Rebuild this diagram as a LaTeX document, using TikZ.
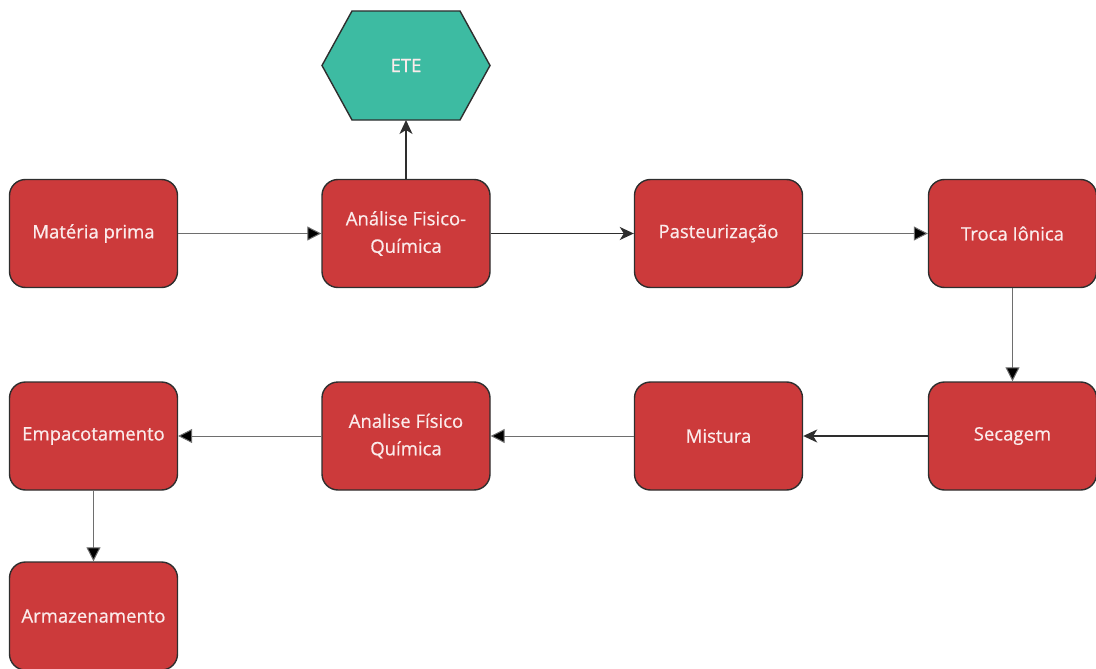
\documentclass[tikz,border=0pt]{standalone}
\usepackage{fontspec}
\setmainfont{Open Sans}
\newfontfamily\labelfont[FakeBold=0.6]{Open Sans}
\usetikzlibrary{arrows.meta,shapes.geometric}
\definecolor{boxred}{HTML}{CC3A3B}
\definecolor{teal}{HTML}{3DBBA2}
\definecolor{edge}{HTML}{2E2E2E}
\definecolor{txt}{HTML}{FBEBEB}
\definecolor{thinline}{HTML}{6E6E6E}
\begin{document}
\begin{tikzpicture}[x=1pt,y=-1pt,
  stepbox/.style={draw=edge,line width=1.4pt,fill=boxred,rounded corners=16pt,
    minimum width=168pt,minimum height=108pt,inner sep=0pt,text=txt,align=center,
    font=\labelfont\fontsize{18.5}{27.5}\selectfont},
  hexbox/.style={draw=edge,line width=1.4pt,fill=teal},
  thinarrow/.style={draw=thinline,line width=1pt,
    -{Triangle[length=14pt,width=14pt,fill=black]}},
  darkarrow/.style={draw=edge,line width=1.6pt,
    -{Stealth[length=14pt,width=13pt,inset=4pt]}}]
\useasboundingbox (0,0) rectangle (1096,669);

% process steps
\node[stepbox] (mp)   at (93.5,233.5)  {Matéria prima};
\node[stepbox] (afq)  at (406,233.5)   {Análise Fisico-\\Química};
\node[stepbox] (past) at (718.5,233.5) {Pasteurização};
\node[stepbox] (troca) at (1012.5,233.5) {Troca Iônica};
\node[stepbox] (sec)  at (1012.5,436)  {Secagem};
\node[stepbox] (mist) at (718.5,436)   {Mistura};
\node[stepbox] (afq2) at (406,436)     {Analise Físico\\Química};
\node[stepbox] (emp)  at (93.5,436)    {Empacotamento};
\node[stepbox] (arm)  at (93.5,616)    {Armazenamento};

% effluent treatment station
\coordinate (ete) at (406,65.5);
\path[hexbox] (322,65.5) -- (352,11) -- (460,11) -- (490,65.5)
  -- (460,120) -- (352,120) -- cycle;
\node[text=txt,font=\labelfont\fontsize{18.5}{27.5}\selectfont] (etelabel) at (ete) {ETE};
\coordinate (etebottom) at (406,120);

% connectors
\draw[thinarrow] (mp.east) -- (afq.west);
\draw[darkarrow] (afq.east) -- (past.west);
\draw[thinarrow] (past.east) -- (troca.west);
\draw[darkarrow] (afq.north) -- (etebottom);
\draw[thinarrow] (troca.south) -- (sec.north);
\draw[darkarrow] (sec.west) -- (mist.east);
\draw[thinarrow] (mist.west) -- (afq2.east);
\draw[thinarrow] (afq2.west) -- (emp.east);
\draw[thinarrow] (emp.south) -- (arm.north);
\end{tikzpicture}
\end{document}
